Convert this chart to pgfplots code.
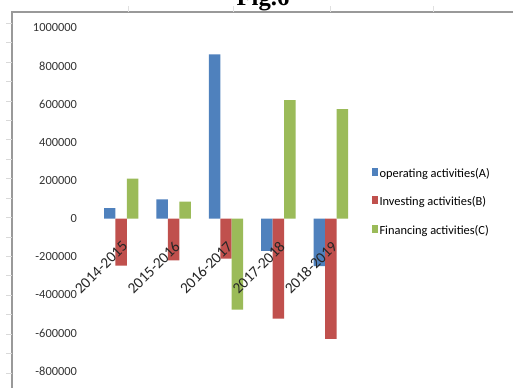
\documentclass[border=0pt]{standalone}
\usepackage{fontspec}
\setmainfont{Carlito}
\newfontfamily\titlefont{Liberation Serif}
\usepackage{pgfplots}
\pgfplotsset{compat=1.18}
\pgfplotsset{layers/mine/.define layer set={axis background,axis grid,axis ticks,axis lines,main,axis tick labels,axis descriptions,axis foreground}{/pgfplots/layers/standard}}
\definecolor{cA}{HTML}{4F81BD}
\definecolor{cB}{HTML}{C0504D}
\definecolor{cC}{HTML}{9BBB59}
\definecolor{gridc}{HTML}{8C8C8C}
\begin{document}
\begin{tikzpicture}
\begin{scope}[x=0.75pt,y=0.75pt]
\clip (0,0) rectangle (513,388);
\fill[white] (0,0) rectangle (513,388);
\draw[black!40, line width=1pt] (12,0) -- (12,376) -- (513,376);
\foreach \y in {365,346,326,307,287,268,249,229,210,190,171,151,132,113,93,74,54,35,15}
  \draw[black!15, line width=0.6pt] (6,\y) -- (12,\y);
\foreach \x in {128,233,330,433}
  \draw[black!12, line width=0.6pt] (\x,376) -- (\x,382);
\node[font=\titlefont\bfseries\fontsize{18.5}{20}\selectfont, anchor=base, inner sep=0pt] at (263,382.5) {Fig.6};
\end{scope}
\begin{axis}[
  set layers=mine,
  at={(71.25pt,12.75pt)}, anchor=south west,
  width=196.5pt, height=257.25pt, scale only axis,
  ybar=0pt, bar width=8.6pt,
  xmin=-0.5, xmax=4.5, ymin=-800000, ymax=1000000,
  axis x line=middle, axis y line=left,
  x axis line style={-, gridc, line width=0.6pt},
  y axis line style={-, gridc, line width=0.6pt},
  xtick={0,1,2,3,4},
  xticklabels={2014-2015,2015-2016,2016-2017,2017-2018,2018-2019},
  major x tick style={draw=none},
  minor xtick={0.5,1.5,2.5,3.5,4.5},
  minor x tick style={gridc, line width=0.6pt},
  minor tick length=3pt,
  xtick align=outside,
  xticklabel style={font=\fontsize{11.5}{12}\selectfont, color=black!85, xshift=0pt, yshift=-12pt, rotate=45, anchor=north east, inner sep=0pt},
  ytick={-800000,-600000,-400000,-200000,0,200000,400000,600000,800000,1000000},
  scaled y ticks=false,
  ytick align=outside,
  major y tick style={gridc, line width=0.6pt},
  major tick length=4pt,
  yticklabel style={/pgf/number format/fixed, /pgf/number format/1000 sep={}, font=\fontsize{9.3}{10}\selectfont, color=black!80, xshift=-6pt},
  /pgf/number format/assume math mode=true,
  ymajorgrids, major grid style={gridc, line width=0.6pt},
  legend style={draw=none, fill=none, at={(1.057,0.595)}, anchor=north west, font=\fontsize{9.3}{10}\selectfont, row sep=11pt, inner sep=0pt, nodes={inner sep=1pt}},
  legend cell align=left,
  legend image code/.code={\fill[#1, draw=none] (0pt,-1.5pt) rectangle (4.5pt,4.5pt);},
]
\addplot[fill=cA, draw=none] coordinates {(0,55000) (1,100000) (2,862000) (3,-170000) (4,-250000)};
\addplot[fill=cB, draw=none] coordinates {(0,-247000) (1,-220000) (2,-210000) (3,-525000) (4,-632000)};
\addplot[fill=cC, draw=none] coordinates {(0,210000) (1,89000) (2,-478000) (3,621000) (4,574000)};
\legend{operating activities(A),Investing activities(B),Financing activities(C)}
\end{axis}
\end{tikzpicture}
\end{document}
